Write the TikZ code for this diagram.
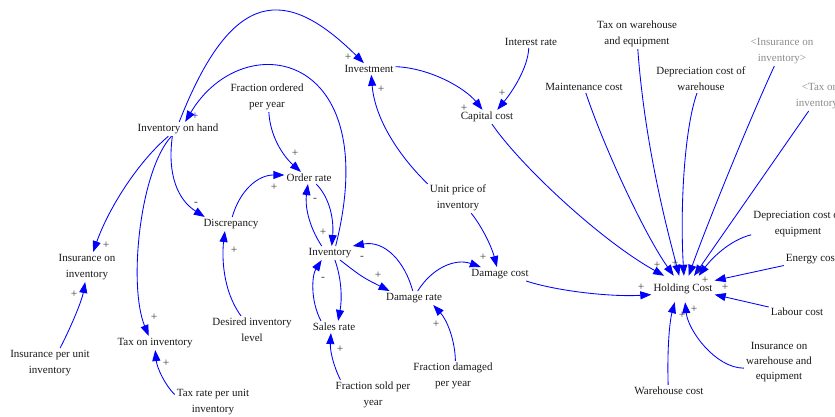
\documentclass[tikz,border=0pt]{standalone}
\usepackage{fontspec}
\setmainfont{Liberation Serif}
\usetikzlibrary{arrows.meta}
\definecolor{vblue}{RGB}{0,0,255}
\definecolor{txt}{RGB}{25,25,25}
\definecolor{ghost}{RGB}{140,140,140}
\definecolor{polc}{RGB}{60,60,60}
\begin{document}
\begin{tikzpicture}[x=1pt,y=-1pt,
  lbl/.style={font=\fontsize{11}{16}\selectfont, align=center, inner sep=2pt, text=txt},
  ghostlbl/.style={lbl, text=ghost},
  pol/.style={font=\fontsize{11.5}{11.5}\selectfont, inner sep=0pt, text=polc},
  arr/.style={draw=vblue, line width=0.85pt, -{Triangle[length=11pt,width=8pt]}}]
\useasboundingbox (0,0) rectangle (835,417);
\fill[white] (0,0) rectangle (835,417);
% nodes
\node[lbl] (ioh) at (178,129) {Inventory on hand};
\node[lbl] (invest) at (369,69) {Investment};
\node[lbl] (fop) at (267,97) {Fraction ordered\\per year};
\node[lbl] (order) at (309,178) {Order rate};
\node[lbl] (disc) at (231,224) {Discrepancy};
\node[lbl] (inv) at (330,253) {Inventory};
\node[lbl] (irate) at (531,42) {Interest rate};
\node[lbl] (cap) at (487,117) {Capital cost};
\node[lbl] (upi) at (458,198) {Unit price of\\inventory};
\node[lbl] (taxwh) at (637,34) {Tax on warehouse\\and equipment};
\node[lbl] (maint) at (584,87) {Maintenance cost};
\node[lbl] (deprwh) at (701,79) {Depreciation cost of\\warehouse};
\node[ghostlbl] (insinvg) at (782,51) {<Insurance on\\inventory>};
\node[ghostlbl] (taxinvg) at (820,96) {<Tax on\\inventory>};
\node[lbl] (depreq) at (798,224) {Depreciation cost of\\equipment};
\node[lbl] (energy) at (812,259) {Energy cost};
\node[lbl] (labour) at (797,312) {Labour cost};
\node[lbl, font=\fontsize{11}{15}\selectfont] (inswh) at (779,362) {Insurance on\\warehouse and\\equipment};
\node[lbl] (wh) at (669,391) {Warehouse cost};
\node[lbl, inner ysep=8pt] (hc) at (683,289) {Holding Cost};
\node[lbl] (dcost) at (500,274) {Damage cost};
\node[lbl] (drate) at (414,298) {Damage rate};
\node[lbl] (sales) at (334,327) {Sales rate};
\node[lbl] (fsold) at (373,395) {Fraction sold per\\year};
\node[lbl] (fdam) at (453,376) {Fraction damaged\\per year};
\node[lbl] (desired) at (252,330) {Desired inventory\\level};
\node[lbl] (insinv) at (87,267) {Insurance on\\inventory};
\node[lbl] (taxinv) at (155,343) {Tax on inventory};
\node[lbl] (ipu) at (50,363) {Insurance per unit\\inventory};
\node[lbl] (trate) at (213,402) {Tax rate per unit\\inventory};
% connectors
\draw[arr] (ioh.80) .. controls (232,-13) and (286,-14) .. (invest.131);
\draw[arr] (inv.51) .. controls (385,50) and (243,25) .. (ioh.45);
\draw[arr] (ioh.-128) .. controls (167,175) and (178,200) .. (disc.165);
\draw[arr] (disc.80) .. controls (240,190) and (258,175) .. (order.173);
\draw[arr] (fop.-83) .. controls (270,135) and (282,155) .. (order.143);
\draw[arr] (order.-40) .. controls (330,198) and (334,220) .. (inv.76);
\draw[arr] (inv.140) .. controls (308,225) and (305,205) .. (order.-100);
\draw[arr] (desired.128) .. controls (222,290) and (222,255) .. (disc.-131);
\draw[arr] (ioh.-143) .. controls (140,160) and (110,205) .. (insinv.68);
\draw[arr] (ioh.-132) .. controls (140,170) and (128,285) .. (taxinv.132);
\draw[arr] (ipu.56) .. controls (72,325) and (82,300) .. (insinv.-97);
\draw[arr] (trate.169) .. controls (165,385) and (157,368) .. (taxinv.-88);
\draw[arr] (inv.-55) .. controls (342,280) and (342,300) .. (sales.56);
\draw[arr] (sales.155) .. controls (310,300) and (312,275) .. (inv.-140);
\draw[arr] (inv.-35) .. controls (362,277) .. (drate.164);
\draw[arr] (drate.100) .. controls (405,262) and (385,240) .. (inv.17);
\draw[arr] (drate.62) .. controls (432,268) and (455,258) .. (dcost.160);
\draw[arr] (fdam.81) .. controls (455,340) and (447,320) .. (drate.-20);
\draw[arr] (fsold.155) .. controls (333,365) and (330,350) .. (sales.-117);
\draw[arr] (upi.-49) .. controls (483,228) and (492,248) .. (dcost.114);
\draw[arr] (upi.155) .. controls (400,157) and (375,120) .. (invest.-69);
\draw[arr] (invest.5) .. controls (430,68) and (465,88) .. (cap.122);
\draw[arr] (irate.-111) .. controls (528,68) and (512,92) .. (cap.35);
\draw[arr] (cap.-55) .. controls (520,165) and (600,240) .. (hc.145);
\draw[arr] (maint.-73) .. controls (605,150) and (645,235) .. (hc.125);
\draw[arr] (taxwh.-87) .. controls (645,150) and (670,240) .. (hc.106);
\draw[arr] (deprwh.-106) .. controls (684,130) and (680,210) .. (hc.86);
\draw[arr] (insinvg.-117) .. controls (745,130) and (705,230) .. (hc.67);
\draw[arr] (taxinvg.-127) -- (hc.50);
\draw[arr] (depreq.193) .. controls (730,240) and (712,258) .. (hc.40);
\draw[arr] (energy.193) -- (hc.15);
\draw[arr] (labour.170) -- (hc.-10);
\draw[arr] (inswh.190) .. controls (715,368) and (688,330) .. (hc.-81);
\draw[arr] (wh.98) .. controls (667,345) and (670,320) .. (hc.-122);
\draw[arr] (dcost.-15) .. controls (560,292) and (615,297) .. (hc.190);
% polarities
\node[pol, text=vblue] (p1) at (195,116) {+};
\node[pol] (p2) at (348,57) {+};
\node[pol] (p3) at (381,89) {+};
\node[pol] (p4) at (464,108) {+};
\node[pol] (p5) at (502,93) {+};
\node[pol] (p6) at (295,153) {+};
\node[pol] (p7) at (274,187) {+};
\node[pol] (p8) at (196,204) {-};
\node[pol] (p9) at (315,200) {-};
\node[pol] (p10) at (323,232) {+};
\node[pol] (p11) at (234,250) {+};
\node[pol] (p12) at (106,245) {+};
\node[pol] (p13) at (74,294) {+};
\node[pol] (p14) at (154,317) {+};
\node[pol] (p15) at (166,363) {+};
\node[pol] (p16) at (362,258) {-};
\node[pol] (p17) at (378,275) {+};
\node[pol] (p18) at (323,279) {-};
\node[pol] (p19) at (340,349) {+};
\node[pol] (p20) at (436,324) {+};
\node[pol] (p21) at (483,257) {+};
\node[pol] (p22) at (657,265) {+};
\node[pol] (p23) at (675,263) {+};
\node[pol] (p24) at (699,272) {+};
\node[pol] (p25) at (705,280) {+};
\node[pol] (p26) at (725,287) {+};
\node[pol] (p27) at (641,287) {+};
\node[pol] (p28) at (694,309) {+};
\node[pol] (p29) at (682,315) {+};
\end{tikzpicture}
\end{document}
